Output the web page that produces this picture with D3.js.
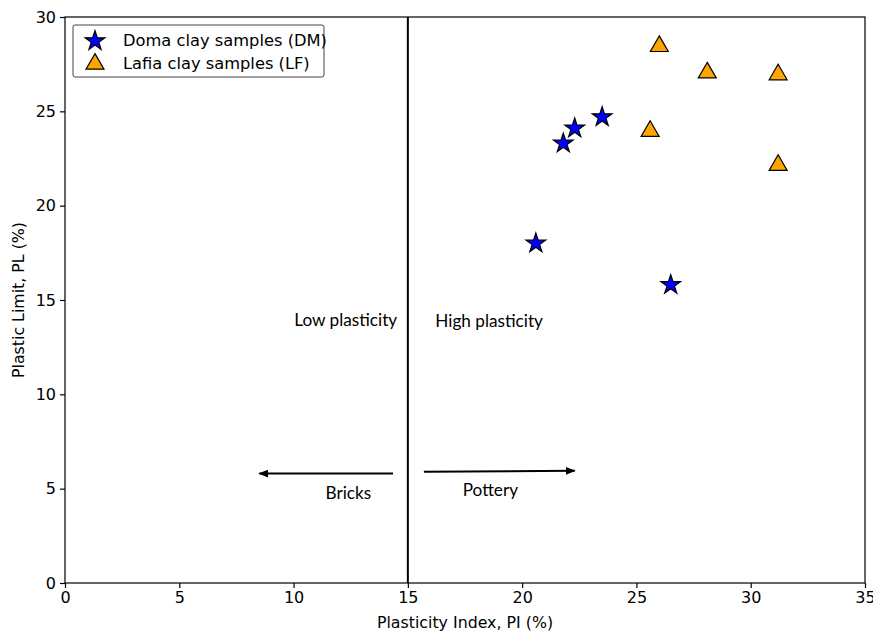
<!DOCTYPE html>
<html><head><meta charset="utf-8">
<script src="https://cdn.jsdelivr.net/npm/d3@7"></script>
<style>body{margin:0;background:#fff}</style>
</head><body>
<svg id="c" width="873" height="634"></svg>
<script>
const dmPI = [20.6, 21.8, 22.3, 23.5, 26.5];
const dmPL = [18.0, 23.3, 24.1, 24.7, 15.8];
const lfPI = [26.0, 28.1, 31.2, 25.6, 31.2];
const lfPL = [28.5, 27.1, 27.0, 24.0, 22.2];
const xTicks = [0, 5, 10, 15, 20, 25, 30, 35];
const yTicks = [0, 5, 10, 15, 20, 25, 30];
const seriesNames = ["Doma clay samples (DM)", "Lafia clay samples (LF)"];

const svg = d3.select("#c");
const m = {l: 65, r: 8, t: 17, b: 51};
const W = 873, H = 634;
const x = d3.scaleLinear().domain([0, 35]).range([m.l, W - m.r]);
const y = d3.scaleLinear().domain([0, 30]).range([H - m.b, m.t]);
const tickFont = "DejaVu Sans, sans-serif";

const xa = svg.append("g").attr("transform", `translate(0,${y(0)})`)
  .call(d3.axisBottom(x).tickValues(xTicks).tickSize(5).tickPadding(4));
const ya = svg.append("g").attr("transform", `translate(${x(0)},0)`)
  .call(d3.axisLeft(y).tickValues(yTicks).tickSize(5).tickPadding(4));
[xa, ya].forEach(a => {
  a.selectAll("text").attr("font-family", tickFont).attr("font-size", 16).attr("fill", "#000");
  a.selectAll("line").attr("stroke", "#000").attr("stroke-width", 1.2);
  a.select(".domain").remove();
});
// frame
svg.append("rect").attr("x", x(0)).attr("y", y(30)).attr("width", x(35) - x(0)).attr("height", y(0) - y(30))
  .attr("fill", "none").attr("stroke", "#000").attr("stroke-width", 1.2);

// vertical divider at PI=15
svg.append("line").attr("x1", x(15)).attr("x2", x(15)).attr("y1", y(30)).attr("y2", y(0))
  .attr("stroke", "#000").attr("stroke-width", 2);

// annotations
const annFont = "Lato, 'Open Sans', sans-serif";
svg.append("text").attr("x", x(10.03)).attr("y", y(13.6)).attr("font-family", annFont).attr("font-size", 17.2).text("Low plasticity");
svg.append("text").attr("x", x(16.2)).attr("y", y(13.55)).attr("font-family", annFont).attr("font-size", 17.2).text("High plasticity");
svg.append("text").attr("x", x(11.4)).attr("y", y(4.45)).attr("font-family", annFont).attr("font-size", 17.2).text("Bricks");
svg.append("text").attr("x", x(17.4)).attr("y", y(4.6)).attr("font-family", annFont).attr("font-size", 17.2).text("Pottery");

svg.append("defs").append("marker").attr("id", "ah").attr("viewBox", "0 0 10 10").attr("refX", 9).attr("refY", 5)
  .attr("markerWidth", 10).attr("markerHeight", 10).attr("markerUnits", "userSpaceOnUse").attr("orient", "auto")
  .append("path").attr("d", "M0,1 L10,5 L0,9 Z").attr("fill", "#000");
svg.append("line").attr("x1", x(14.35)).attr("y1", y(5.8)).attr("x2", x(8.5)).attr("y2", y(5.8))
  .attr("stroke", "#000").attr("stroke-width", 2).attr("marker-end", "url(#ah)");
svg.append("line").attr("x1", x(15.7)).attr("y1", y(5.9)).attr("x2", x(22.3)).attr("y2", y(5.95))
  .attr("stroke", "#000").attr("stroke-width", 2).attr("marker-end", "url(#ah)");

// points
const star = d3.symbol().type(d3.symbolStar).size(120);
const tri = d3.symbol().type(d3.symbolTriangle).size(140);
svg.append("g").selectAll("path").data(dmPI.map((v, i) => [v, dmPL[i]])).join("path")
  .attr("d", star).attr("transform", d => `translate(${x(d[0])},${y(d[1])})`)
  .attr("fill", "#0000ff").attr("stroke", "#000").attr("stroke-width", 1.2);
svg.append("g").selectAll("path").data(lfPI.map((v, i) => [v, lfPL[i]])).join("path")
  .attr("d", tri).attr("transform", d => `translate(${x(d[0])},${y(d[1]) + 1})`)
  .attr("fill", "#ffa500").attr("stroke", "#000").attr("stroke-width", 1.2);

// legend
const lg = svg.append("g");
lg.append("rect").attr("x", 73).attr("y", 25).attr("width", 251).attr("height", 52).attr("rx", 2)
  .attr("fill", "#fff").attr("stroke", "#444").attr("stroke-width", 1);
lg.append("path").attr("d", star).attr("transform", "translate(95,41)").attr("fill", "#0000ff").attr("stroke", "#000").attr("stroke-width", 1.2);
lg.append("path").attr("d", tri).attr("transform", "translate(95,64)").attr("fill", "#ffa500").attr("stroke", "#000").attr("stroke-width", 1.2);
seriesNames.forEach((n, i) => {
  lg.append("text").attr("x", 123).attr("y", 46 + i * 23).attr("font-family", tickFont).attr("font-size", 16.3).text(n);
});

// axis labels
svg.append("text").attr("x", (x(0) + x(35)) / 2).attr("y", 628).attr("text-anchor", "middle")
  .attr("font-family", tickFont).attr("font-size", 15.8).text("Plasticity Index, PI (%)");
svg.append("text").attr("transform", `translate(24,${(y(0) + y(30)) / 2}) rotate(-90)`).attr("text-anchor", "middle")
  .attr("font-family", tickFont).attr("font-size", 15.8).text("Plastic Limit, PL (%)");
</script>
</body></html>
